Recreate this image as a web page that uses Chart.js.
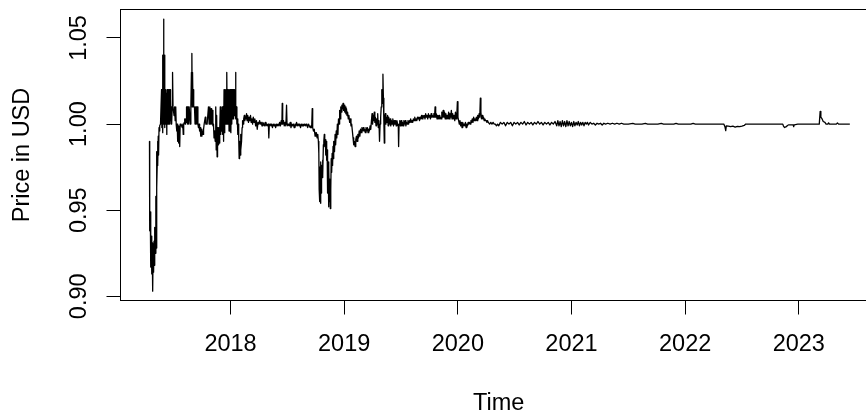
<!DOCTYPE html>
<html>
<head>
<meta charset="utf-8">
<script src="https://cdn.jsdelivr.net/npm/chart.js@4/dist/chart.umd.min.js"></script>
<style>
  html, body { margin: 0; padding: 0; background: #fff; overflow: hidden; }
  #wrap { width: 890px; height: 415px; }
</style>
</head>
<body>
<div id="wrap"><canvas id="myChart" width="890" height="415"></canvas></div>
<script>
// Daily price (USD). Time as decimal years.
var years = [
  2017.287,2017.289,2017.294,2017.298,2017.303,2017.307,2017.311,2017.315,2017.319,2017.323,
  2017.327,2017.331,2017.335,2017.339,2017.343,2017.346,2017.349,2017.352,2017.355,2017.358,
  2017.361,2017.364,2017.367,2017.371,2017.375,2017.379,2017.384,
  2017.393,2017.396,2017.399,2017.402,2017.405,2017.408,2017.411,2017.414,2017.417,2017.420,
  2017.423,2017.426,2017.429,2017.432,2017.435,2017.438,2017.441,2017.444,2017.447,2017.450,
  2017.453,2017.456,2017.459,2017.462,2017.465,2017.468,2017.471,2017.474,2017.477,2017.480,
  2017.484,2017.487,2017.490,2017.494,2017.498,2017.503,2017.508,2017.513,2017.518,2017.522,
  2017.527,2017.531,2017.535,2017.538,2017.542,2017.546,2017.550,2017.553,2017.557,2017.561,
  2017.565,2017.570,2017.575,2017.580,2017.584,2017.588,2017.593,2017.597,2017.601,2017.605,
  2017.609,2017.613,2017.618,2017.622,2017.626,2017.631,2017.636,2017.641,2017.646,2017.651,
  2017.656,2017.660,2017.663,2017.666,2017.670,2017.674,2017.678,2017.683,2017.688,2017.693,
  2017.698,2017.703,2017.708,2017.713,2017.718,2017.723,2017.728,2017.733,2017.738,2017.743,
  2017.748,2017.753,2017.758,2017.763,2017.768,2017.773,2017.778,2017.783,2017.788,
  2017.794,2017.800,2017.806,2017.812,2017.818,2017.824,2017.829,2017.834,2017.840,2017.845,
  2017.850,2017.855,2017.860,2017.865,2017.870,2017.874,2017.878,2017.882,2017.886,2017.890,
  2017.895,2017.900,2017.905,2017.910,2017.914,2017.918,2017.922,2017.927,2017.931,2017.935,
  2017.939,2017.943,2017.947,2017.951,2017.955,2017.959,2017.963,2017.967,2017.971,2017.975,
  2017.979,2017.983,2017.987,2017.991,2017.995,2017.999,2018.003,2018.007,2018.011,2018.015,
  2018.019,2018.023,2018.027,2018.031,2018.035,2018.040,2018.044,2018.048,2018.052,2018.056,
  2018.060,2018.064,2018.068,2018.072,2018.076,2018.080,2018.084,2018.088,2018.092,2018.097,
  2018.102,2018.106,2018.111,2018.116,2018.121,2018.126,2018.131,
  2018.136,2018.141,2018.146,2018.152,2018.158,2018.164,2018.170,2018.176,2018.182,2018.188,
  2018.194,2018.200,2018.207,2018.214,2018.221,2018.228,2018.235,2018.242,2018.249,2018.256,
  2018.263,2018.270,2018.277,2018.284,2018.291,2018.298,2018.305,2018.312,2018.319,2018.326,
  2018.333,2018.337,2018.341,2018.348,2018.355,2018.362,2018.369,2018.376,2018.383,2018.390,
  2018.397,2018.404,2018.411,2018.418,2018.425,2018.432,2018.439,2018.446,2018.452,2018.455,
  2018.459,2018.466,2018.473,2018.480,2018.487,2018.493,2018.497,2018.504,2018.511,2018.518,
  2018.525,2018.532,2018.539,2018.546,2018.553,2018.560,2018.567,2018.574,2018.581,2018.588,
  2018.595,2018.602,2018.609,2018.616,2018.623,2018.630,2018.637,2018.644,2018.651,2018.658,
  2018.665,2018.672,2018.679,2018.686,2018.693,2018.700,2018.707,2018.714,2018.719,2018.723,
  2018.730,2018.737,2018.744,2018.751,
  2018.755,2018.762,2018.768,2018.773,2018.777,2018.780,2018.783,2018.786,2018.789,2018.792,
  2018.795,2018.798,2018.801,2018.805,2018.809,2018.813,2018.817,2018.821,2018.825,2018.829,
  2018.834,2018.838,2018.842,2018.846,2018.850,2018.854,2018.858,2018.862,2018.866,2018.870,
  2018.874,2018.878,2018.882,2018.886,2018.890,2018.894,2018.898,2018.902,2018.906,2018.910,
  2018.915,2018.920,2018.925,2018.930,2018.935,2018.940,2018.945,2018.950,2018.955,2018.960,
  2018.965,2018.970,2018.975,2018.980,2018.985,2018.990,2018.995,2019.000,2019.005,2019.010,
  2019.015,2019.020,2019.025,2019.030,2019.036,2019.042,2019.048,2019.054,2019.060,2019.066,
  2019.072,2019.078,2019.084,2019.090,2019.096,2019.102,2019.108,2019.114,2019.120,2019.126,
  2019.132,2019.138,2019.144,2019.150,2019.156,2019.162,2019.168,2019.174,2019.180,2019.186,
  2019.192,2019.198,2019.204,2019.210,2019.216,2019.222,2019.228,2019.234,2019.240,2019.245,
  2019.250,2019.255,2019.260,2019.265,2019.270,2019.275,2019.280,2019.285,2019.290,2019.295,
  2019.300,2019.306,2019.311,2019.316,2019.321,2019.326,2019.331,2019.336,2019.341,2019.345,
  2019.349,2019.353,2019.357,2019.362,2019.367,2019.372,2019.377,2019.382,2019.387,2019.392,
  2019.398,2019.404,2019.410,2019.416,2019.422,2019.428,2019.434,2019.440,2019.446,2019.452,
  2019.458,2019.464,2019.470,2019.476,2019.479,2019.483,2019.489,2019.495,2019.501,2019.507,
  2019.513,2019.519,2019.525,2019.531,2019.537,2019.543,2019.549,2019.555,2019.561,2019.567,
  2019.573,2019.579,2019.585,2019.591,2019.597,2019.603,2019.609,2019.615,2019.621,2019.627,
  2019.633,2019.639,2019.645,2019.651,2019.657,2019.663,2019.669,2019.675,2019.681,2019.687,
  2019.693,2019.699,2019.705,2019.711,2019.717,2019.723,2019.729,2019.735,2019.741,2019.747,
  2019.753,2019.759,2019.765,2019.771,2019.777,2019.783,2019.789,2019.795,2019.800,2019.805,
  2019.811,2019.817,2019.823,2019.829,2019.835,2019.841,2019.847,2019.853,2019.859,2019.865,
  2019.871,2019.877,2019.883,2019.889,2019.895,2019.901,2019.907,2019.913,2019.919,2019.925,
  2019.931,2019.937,2019.943,2019.949,2019.955,2019.961,2019.967,2019.973,2019.979,2019.985,
  2019.991,2019.996,2020.001,2020.007,2020.013,2020.019,2020.025,2020.031,2020.037,2020.043,
  2020.049,2020.055,2020.061,2020.067,2020.073,2020.079,2020.085,2020.091,2020.097,2020.103,
  2020.109,2020.115,2020.121,2020.127,2020.133,2020.139,2020.145,2020.151,2020.157,2020.163,
  2020.169,2020.175,2020.181,2020.187,2020.193,2020.198,2020.203,2020.208,2020.214,2020.220,
  2020.226,2020.232,2020.238,2020.244,2020.250,2020.256,2020.262,2020.268,2020.274,2020.280,
  2020.290,2020.300,2020.310,2020.320,2020.330,2020.340,2020.350,2020.360,2020.375,2020.390,
  2020.405,2020.420,2020.435,2020.450,2020.465,2020.480,2020.495,2020.510,2020.525,2020.540,
  2020.555,2020.570,2020.585,2020.600,2020.615,2020.630,2020.645,2020.660,2020.675,2020.690,
  2020.705,2020.720,2020.735,2020.750,2020.765,2020.780,2020.795,2020.810,2020.825,2020.840,
  2020.855,2020.870,2020.880,2020.890,2020.900,2020.910,2020.920,2020.930,2020.940,2020.950,
  2020.960,2020.970,2020.980,2020.990,2021.000,2021.010,2021.020,2021.030,2021.040,2021.050,
  2021.060,2021.070,2021.080,2021.090,2021.100,2021.110,2021.120,2021.130,2021.140,2021.150,
  2021.165,2021.180,2021.195,2021.210,2021.225,2021.240,2021.255,2021.270,2021.285,2021.300,
  2021.320,2021.340,2021.360,2021.380,2021.400,2021.420,2021.440,2021.460,2021.500,2021.540,
  2021.560,2021.620,2021.650,2021.670,2021.760,2021.790,2021.810,2021.900,2021.920,2021.940,
  2022.050,2022.070,2022.090,2022.340,2022.350,2022.357,2022.362,2022.380,2022.400,2022.420,
  2022.440,2022.460,2022.480,2022.500,2022.520,2022.533,2022.859,2022.865,2022.875,2022.890,
  2022.900,2022.912,2022.950,2022.955,2022.960,2022.991,2023.180,2023.188,2023.194,2023.205,
  2023.215,2023.230,2023.240,2023.255,2023.262,2023.270,2023.330,2023.340,2023.350,2023.449
];
var prices = [
  0.990,0.938,0.949,0.917,0.935,0.913,0.931,0.903,0.926,0.914,
  0.932,0.918,0.940,0.925,0.958,0.928,0.984,0.963,0.976,0.990,
  0.977,0.993,0.982,0.998,0.996,0.999,1.000,
  1.020,0.998,1.020,0.995,1.040,1.000,1.061,1.000,1.040,0.998,
  1.020,1.000,1.020,1.000,1.018,0.994,1.000,1.020,1.000,1.020,
  1.000,1.020,1.000,1.020,1.000,1.020,1.002,1.015,1.000,1.010,
  1.000,1.010,1.030,1.010,1.010,1.005,1.010,1.002,1.010,1.000,
  0.996,1.000,0.990,0.998,0.989,0.999,0.998,0.987,1.000,0.999,
  1.000,1.000,0.998,1.000,0.994,1.000,1.001,1.003,1.000,1.003,
  1.001,1.010,1.010,1.000,1.010,1.000,1.010,1.010,1.000,1.010,
  1.030,1.041,1.010,1.030,1.010,1.020,1.010,1.010,1.000,1.010,
  1.010,1.000,1.010,1.000,0.998,1.000,0.996,0.998,0.993,0.997,
  0.993,0.996,0.994,0.997,1.000,1.000,1.004,1.000,1.000,
  1.000,1.000,1.010,1.000,1.010,1.000,1.009,1.000,1.008,0.999,
  1.000,0.992,0.996,0.990,1.010,0.985,1.005,0.981,0.998,0.988,
  0.998,0.989,0.997,1.010,0.994,1.008,0.996,1.010,0.994,1.010,
  0.990,1.020,0.995,1.020,1.000,1.020,1.000,1.030,1.000,1.020,
  1.000,1.020,0.996,1.020,1.000,1.020,0.995,1.020,1.000,1.020,
  1.003,1.020,1.003,1.020,1.005,1.010,1.030,1.003,1.010,1.000,
  1.003,0.994,1.000,0.992,0.980,0.990,0.982,0.994,0.985,0.990,
  0.998,1.002,1.000,1.003,1.005,1.002,1.004,
  1.003,1.006,1.002,1.005,1.001,1.004,1.002,1.005,1.001,1.003,
  1.000,1.004,1.001,1.003,0.999,1.002,0.997,1.001,1.000,1.002,
  1.000,1.001,0.999,1.001,1.000,0.999,1.001,0.999,1.000,0.999,
  1.000,0.992,0.999,1.000,0.999,1.000,0.998,1.000,0.999,1.000,
  0.998,1.000,0.999,1.000,0.999,1.001,0.999,1.002,1.000,1.012,
  1.000,1.002,0.999,1.001,0.999,1.011,1.000,0.999,1.000,0.999,
  1.001,0.998,1.000,0.999,1.000,0.998,1.000,0.999,1.001,0.999,
  1.000,0.999,1.000,0.998,1.000,0.999,1.000,0.999,1.000,0.999,
  1.000,0.999,0.998,1.000,0.999,0.998,0.999,0.998,1.009,0.998,
  0.996,0.997,0.993,0.995,
  0.995,0.992,0.994,0.990,0.983,0.962,0.975,0.955,0.970,0.954,
  0.978,0.960,0.976,0.969,0.979,0.970,0.988,0.990,0.994,0.987,
  0.991,0.982,0.990,0.979,0.985,0.960,0.978,0.952,0.975,0.955,
  0.968,0.951,0.962,0.980,0.972,0.983,0.976,0.987,0.980,0.990,
  0.984,0.994,0.988,0.996,0.992,1.000,0.994,1.003,1.000,1.008,
  1.003,1.010,1.007,1.011,1.009,1.012,1.008,1.011,1.007,1.010,
  1.006,1.009,1.005,1.007,1.003,1.005,1.001,1.003,0.999,1.000,
  0.996,0.992,0.988,0.990,0.987,0.991,0.993,0.990,0.994,0.992,
  0.996,0.993,0.997,0.995,0.998,0.996,0.998,0.996,0.997,0.995,
  0.998,0.996,0.998,0.995,0.997,0.996,0.999,0.997,1.002,1.006,
  1.000,1.005,1.002,1.007,1.001,1.004,0.999,1.003,1.000,1.006,
  0.998,1.002,0.990,1.000,1.004,1.010,1.020,1.012,1.029,1.015,
  1.002,0.989,1.003,1.006,1.000,1.004,1.001,1.005,0.999,1.004,
  1.000,1.003,0.999,1.002,1.000,1.003,0.999,1.002,1.000,1.002,
  0.999,1.002,1.000,0.999,0.987,1.000,1.002,0.999,1.002,0.999,
  1.001,0.999,1.002,1.000,1.002,0.999,1.001,1.000,1.002,1.000,
  1.002,1.001,1.003,1.001,1.002,1.001,1.003,1.002,1.004,1.002,
  1.003,1.002,1.004,1.003,1.004,1.002,1.004,1.003,1.005,1.003,
  1.005,1.004,1.005,1.003,1.006,1.004,1.005,1.003,1.006,1.004,
  1.005,1.003,1.006,1.004,1.005,1.004,1.006,1.004,1.010,1.004,
  1.006,1.003,1.005,1.003,1.005,1.003,1.004,1.003,1.007,1.004,
  1.008,1.004,1.007,1.003,1.006,1.003,1.005,1.003,1.007,1.003,
  1.006,1.004,1.008,1.003,1.006,1.003,1.005,1.002,1.007,1.003,
  1.005,1.013,1.004,1.002,1.000,1.002,0.999,1.001,0.998,1.001,
  0.999,1.000,0.999,1.001,0.998,1.000,0.999,1.001,1.000,1.001,
  1.000,1.002,1.001,1.003,1.001,1.004,1.002,1.003,1.002,1.004,
  1.002,1.005,1.003,1.006,1.004,1.015,1.007,1.003,1.005,1.003,
  1.004,1.002,1.003,1.002,1.002,1.001,1.002,1.001,1.001,1.000,
  1.001,1.000,1.001,1.000,1.000,0.999,1.000,0.999,1.001,1.000,
  1.001,0.999,1.001,1.000,1.001,0.999,1.001,1.000,1.001,0.9995,
  1.001,1.000,1.0015,0.9995,1.001,1.000,1.001,0.9995,1.001,1.000,
  1.0015,1.000,1.001,0.9995,1.001,1.000,1.001,0.9995,1.001,1.000,
  1.0015,0.999,1.002,0.999,1.0015,0.9985,1.002,0.999,1.0015,0.9985,
  1.002,0.999,1.0015,0.999,1.001,0.9985,1.0015,0.999,1.001,0.9995,
  1.0015,0.999,1.001,0.9995,1.001,0.999,1.001,1.000,1.001,0.9995,
  1.001,1.000,1.0005,0.9995,1.0005,1.000,1.0005,0.9995,1.0005,1.000,
  1.0005,1.000,1.0005,1.000,1.0005,1.000,1.0005,1.000,1.000,1.0004,
  1.000,1.000,1.0004,1.000,1.000,1.0004,1.000,1.000,1.0004,1.000,
  1.000,1.0004,1.000,1.000,0.9985,0.9962,0.999,0.9988,0.9985,0.9988,
  0.9983,0.9987,0.9985,0.9988,0.9992,1.000,1.000,0.9988,0.998,0.9985,
  0.9992,0.9996,0.9996,0.9985,0.9996,1.000,1.000,1.0074,1.004,1.003,
  1.0015,1.001,1.000,1.000,1.0007,1.000,1.000,1.0007,1.000,1.000
];
var xTicks = [2018, 2019, 2020, 2021, 2022, 2023];
var yTicks = [0.90, 0.95, 1.00, 1.05];

var points = [];
for (var i = 0; i < Math.min(years.length, prices.length); i++) {
  points.push({x: years[i], y: prices[i]});
}

var FONT = "'Liberation Sans', Arial, sans-serif";

// R style box around the plot region
var boxPlugin = {
  id: 'box',
  afterDraw: function(chart) {
    var a = chart.chartArea, c = chart.ctx;
    c.save();
    c.strokeStyle = '#000';
    c.lineWidth = 1;
    c.strokeRect(a.left, a.top, a.right - a.left, a.bottom - a.top);
    c.restore();
  }
};

var ctx = document.getElementById('myChart').getContext('2d');
var myChart = new Chart(ctx, {
  type: 'line',
  data: {
    datasets: [{
      data: points,
      borderColor: '#000',
      borderWidth: 1.3,
      borderJoinStyle: 'round',
      pointRadius: 0,
      tension: 0,
      fill: false
    }]
  },
  options: {
    responsive: false,
    animation: false,
    events: [],
    layout: { padding: { top: 9.5, right: 13, left: 0, bottom: 0 } },
    plugins: {
      legend: { display: false },
      tooltip: { enabled: false }
    },
    scales: {
      x: {
        type: 'linear',
        min: 2017.032,
        max: 2023.688,
        afterBuildTicks: function(s) { s.ticks = xTicks.map(function(v) { return {value: v}; }); },
        afterFit: function(s) { s.height = 114.5; s.paddingLeft = 0; s.paddingRight = 0; },
        grid: { drawOnChartArea: false, drawTicks: true, tickLength: 14, tickColor: '#000', tickWidth: 1 },
        border: { display: false },
        ticks: {
          padding: 16, color: '#000', autoSkip: false, maxRotation: 0,
          font: { family: FONT, size: 23.5 },
          callback: function(v) { return String(v); }
        },
        title: {
          display: true, text: 'Time', color: '#000',
          font: { family: FONT, size: 23.5, lineHeight: 1 },
          padding: { top: 0, bottom: 0 }
        }
      },
      y: {
        min: 0.89756,
        max: 1.06655,
        afterBuildTicks: function(s) { s.ticks = yTicks.map(function(v) { return {value: v}; }); },
        afterFit: function(s) { s.width = 120.5; s.paddingTop = 0; s.paddingBottom = 0; },
        grid: { drawOnChartArea: false, drawTicks: true, tickLength: 14, tickColor: '#000', tickWidth: 1 },
        border: { display: false },
        ticks: {
          padding: 4, crossAlign: 'center', minRotation: 90, maxRotation: 90, autoSkip: false,
          color: '#000', font: { family: FONT, size: 23.5 },
          callback: function(v) { return v.toFixed(2); }
        },
        title: {
          display: true, text: 'Price in USD', color: '#000',
          font: { family: FONT, size: 23.5, lineHeight: 1 },
          padding: { top: 10.75, bottom: 0 }
        }
      }
    }
  },
  plugins: [boxPlugin]
});
</script>
</body>
</html>
